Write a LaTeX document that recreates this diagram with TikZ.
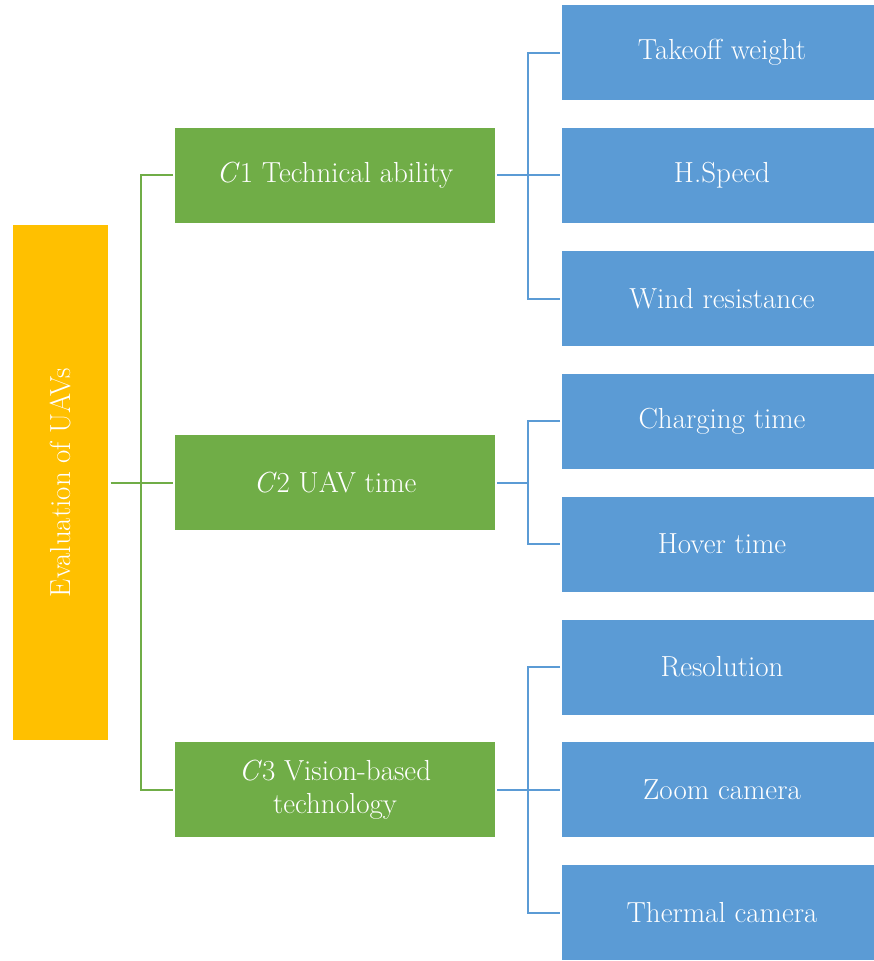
\documentclass[tikz,border=0pt]{standalone}
\usepackage{fontspec}
\usetikzlibrary{calc}
\definecolor{gold}{HTML}{FFC000}
\definecolor{grn}{HTML}{70AD47}
\definecolor{blu}{HTML}{5B9BD5}
\begin{document}
\begin{tikzpicture}[x=1pt,y=-1pt,
  every node/.style={inner sep=0pt, outer sep=0pt, text=white, font=\fontsize{29}{33}\selectfont},
  rootbox/.style={fill=gold, minimum width=515pt, minimum height=95pt, rotate=90},
  critbox/.style={fill=grn, minimum width=320pt, minimum height=95pt, align=center},
  subbox/.style={fill=blu, minimum width=320pt, minimum height=95pt},
  gline/.style={draw=grn, line width=2pt},
  bline/.style={draw=blu, line width=2pt}]
\useasboundingbox (0,0) rectangle (874,961);
\clip (0,0) rectangle (874,961);
\node[rootbox] (root) at (60,482.5) {Evaluation of UAVs};
\node[critbox] (c1) at (335,175) {\textit{C}1 Technical ability};
\node[critbox] (c2) at (335,482.5) {\textit{C}2 UAV time};
\node[critbox] (c3) at (335,789.5) {\textit{C}3 Vision-based\\technology};
\node[subbox] (s1) at (722,52.5) {Takeoff weight};
\node[subbox] (s2) at (722,175) {H.Speed};
\node[subbox] (s3) at (722,298.5) {Wind resistance};
\node[subbox] (s4) at (722,421) {Charging time};
\node[subbox] (s5) at (722,544) {Hover time};
\node[subbox] (s6) at (722,667) {Resolution};
\node[subbox] (s7) at (722,789.5) {Zoom camera};
\node[subbox] (s8) at (722,912.5) {Thermal camera};
\coordinate (t) at (141,482.5);
\coordinate (b) at (528,482.5);
% green connectors
\draw[gline] ($(root.south)+(3,0)$) -- ($(c2.west)+(-2,0)$);
\draw[gline] ($(c1.west)+(-2,0)$) -| (t) |- ($(c3.west)+(-2,0)$);
% blue connectors
\draw[bline] ($(c1.east)+(2,0)$) -- ($(s2.west)+(-2,0)$);
\draw[bline] ($(s1.west)+(-2,0)$) -| (b |- s1.west) |- ($(s3.west)+(-2,0)$);
\draw[bline] ($(c2.east)+(2,0)$) -- (b |- c2.east);
\draw[bline] ($(s4.west)+(-2,0)$) -| (b |- s4.west) |- ($(s5.west)+(-2,0)$);
\draw[bline] ($(c3.east)+(2,0)$) -- ($(s7.west)+(-2,0)$);
\draw[bline] ($(s6.west)+(-2,0)$) -| (b |- s6.west) |- ($(s8.west)+(-2,0)$);
\end{tikzpicture}
\end{document}
